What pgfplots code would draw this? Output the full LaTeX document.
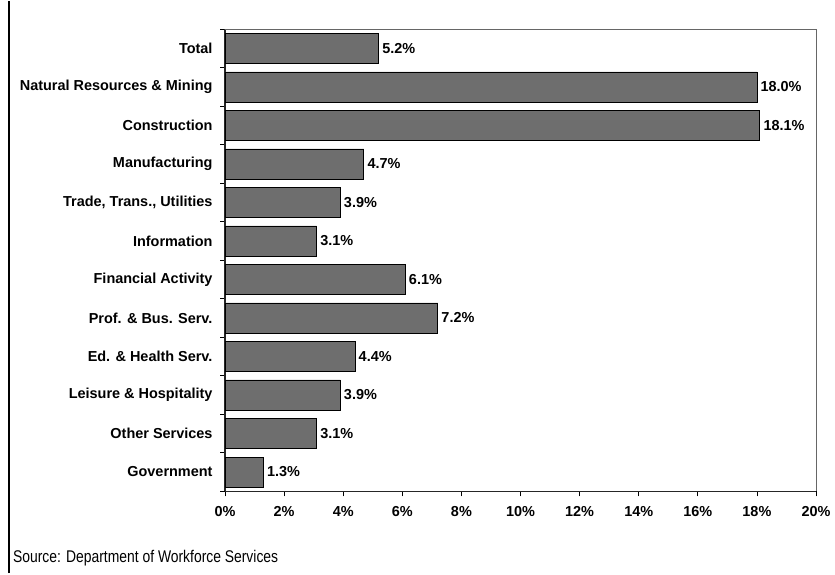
\documentclass[border=0pt]{standalone}
\usepackage{pgfplots}
\pgfplotsset{compat=1.18}
\usepackage{fontspec}
\setmainfont{Liberation Sans}
\definecolor{barfill}{RGB}{110,110,110}
\begin{document}
\begin{tikzpicture}[x=1bp,y=1bp]
\path (0,0) rectangle (835,572);
\draw[line width=2.5bp,black] (9,0) -- (9,572);
\node[anchor=base west,font=\fontsize{17}{19}\selectfont,inner sep=0,xscale=0.82,transform shape] at (13,11) {Source: Department of Workforce Services};
\begin{axis}[
  at={(225bp,82bp)}, anchor=south west,
  scale only axis, width=591bp, height=462bp,
  xbar, bar width=30bp,
  xmin=0, xmax=20,
  ymin=-0.5, ymax=11.5, y dir=reverse,
  axis x line*=bottom, axis y line*=left,
  axis line style={line width=1.2bp, black!85},
  xtick={0,2,...,20},
  xticklabel={\pgfmathprintnumber{\tick}\%},
  ytick={-0.5,0.5,...,11.5},
  yticklabels={Total,Natural Resources \& Mining,Construction,Manufacturing,{Trade, Trans., Utilities},Information,Financial Activity,Prof. \& Bus. Serv.,Ed. \& Health Serv.,Leisure \& Hospitality,Other Services,Government,{}},
  tick style={black, line width=0.8bp},
  major tick length=5bp, tick align=outside,
  ticklabel style={font=\fontsize{14.5}{16}\selectfont\bfseries},
  /pgf/number format/assume math mode=true,
  xticklabel style={yshift=-7bp},
  yticklabel style={xshift=-4bp, yshift=-19.25bp},
  nodes near coords={\pgfmathprintnumber[fixed,fixed zerofill,precision=1]{\pgfplotspointmeta}\%},
  nodes near coords style={font=\fontsize{14.5}{16}\selectfont\bfseries, anchor=west, xshift=0bp},
  clip=false,
]
\addplot[fill=barfill, draw=black, line width=0.8bp] coordinates {
(5.2,0) (18.0,1) (18.1,2) (4.7,3) (3.9,4) (3.1,5) (6.1,6) (7.2,7) (4.4,8) (3.9,9) (3.1,10) (1.3,11)};
\draw[black!60, line width=0.8bp] (rel axis cs:0,1) -- (rel axis cs:1,1) -- (rel axis cs:1,0);
\end{axis}
\end{tikzpicture}
\end{document}
